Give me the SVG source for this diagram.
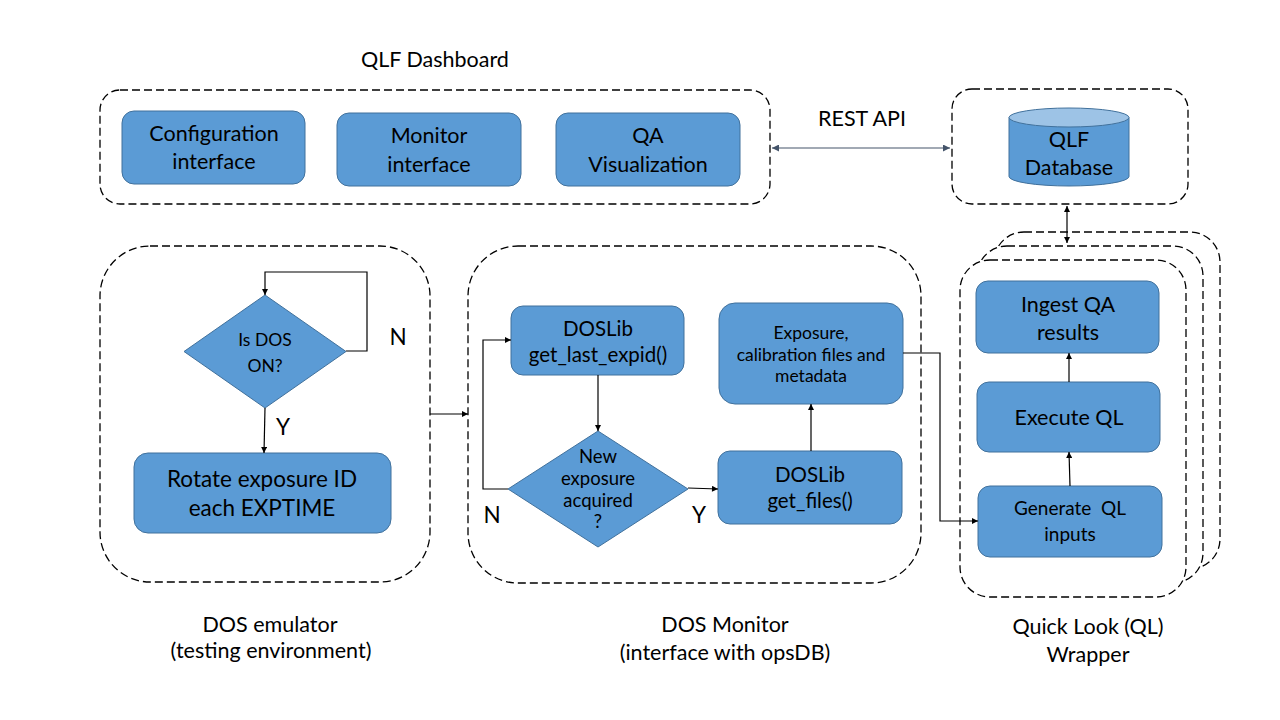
<svg xmlns="http://www.w3.org/2000/svg" width="1280" height="720" viewBox="0 0 1280 720">
<style>
.bg{fill:#ffffff}
.cont{fill:none;stroke:#000;stroke-width:1.3;stroke-dasharray:8,4}
.contw{fill:#ffffff;stroke:#000;stroke-width:1.3;stroke-dasharray:8,4}
.box{fill:#5B9BD5;stroke:#41719C;stroke-width:1}
.top{fill:#9DC3E6;stroke:#41719C;stroke-width:1}
text{font-family:Lato,"Liberation Sans",sans-serif;fill:#000;text-anchor:middle}
.t20{font-size:21.5px}
.t21{font-size:22.5px}
.t19{font-size:20.5px}
.t17{font-size:19px}
.td{font-size:17.5px}
.t16{font-size:17.5px}
.tn{font-size:18.5px}
.con{fill:none;stroke:#000;stroke-width:1.2}
.api{fill:none;stroke:#44546A;stroke-width:1.2}
</style>
<defs>
<marker id="ah" viewBox="0 0 10 10" refX="10" refY="5" markerWidth="7" markerHeight="6" markerUnits="userSpaceOnUse" orient="auto-start-reverse">
<path d="M0,0 L10,5 L0,10 z" fill="#000"/>
</marker>
<marker id="ahb" viewBox="0 0 10 10" refX="10" refY="5" markerWidth="8" markerHeight="7" markerUnits="userSpaceOnUse" orient="auto-start-reverse">
<path d="M0,0 L10,5 L0,10 z" fill="#44546A"/>
</marker>
</defs>
<rect class="bg" x="0" y="0" width="1280" height="720"/>

<g id="dashboard">
<text class="t20" x="435" y="67">QLF Dashboard</text>
<rect class="cont" x="100" y="90" width="670" height="114" rx="20"/>
</g>
<g id="config-interface">
<rect class="box" x="122" y="111" width="183" height="73" rx="12"/>
<text class="t20" x="214" y="141">Configuration</text>
<text class="t20" x="214" y="169">interface</text>
</g>
<g id="monitor-interface">
<rect class="box" x="337" y="113" width="184" height="73" rx="12"/>
<text class="t20" x="429" y="143">Monitor</text>
<text class="t20" x="429" y="172">interface</text>
</g>
<g id="qa-visualization">
<rect class="box" x="556" y="113" width="184" height="73" rx="12"/>
<text class="t20" x="648" y="143">QA</text>
<text class="t20" x="648" y="172">Visualization</text>
</g>

<g id="database">
<rect class="cont" x="952" y="89" width="236" height="115" rx="20"/>
<path class="box" d="M1009,117.5 V176.5 A60,9.5 0 0 0 1129,176.5 V117.5"/>
<ellipse class="top" cx="1069" cy="117.5" rx="60" ry="9.5"/>
<text class="t20" x="1069" y="147">QLF</text>
<text class="t20" x="1069" y="175">Database</text>
</g>

<g id="rest-api-label">
<text class="t20" x="862" y="126">REST API</text>
</g>

<g id="dos-emulator">
<rect class="cont" x="100" y="246" width="330" height="336" rx="50"/>
<text class="t20" x="270" y="632">DOS emulator</text>
<text class="t20" x="271" y="658">(testing environment)</text>
</g>
<g id="is-dos-on">
<polygon class="box" points="265,295 346,351.5 265,408 184,351.5"/>
<text class="td" x="265" y="346">Is DOS</text>
<text class="td" x="265" y="372">ON?</text>
</g>
<g id="rotate-exposure">
<rect class="box" x="134" y="453" width="257" height="80" rx="14"/>
<text class="t21" x="262" y="487">Rotate exposure ID</text>
<text class="t21" x="262" y="516">each EXPTIME</text>
</g>

<g id="dos-monitor">
<rect class="cont" x="468" y="246" width="453" height="337" rx="50"/>
<text class="t20" x="725" y="632">DOS Monitor</text>
<text class="t20" x="725" y="660">(interface with opsDB)</text>
</g>
<g id="get-last-expid">
<rect class="box" x="511" y="306" width="173" height="69" rx="12"/>
<text class="t19" x="598" y="336">DOSLib</text>
<text class="t19" x="598" y="362">get_last_expid()</text>
</g>
<g id="new-exposure">
<polygon class="box" points="598,431 688,489 598,547 508,489"/>
<text class="tn" x="598" y="463">New</text>
<text class="tn" x="598" y="485">exposure</text>
<text class="tn" x="598" y="507">acquired</text>
<text class="tn" x="598" y="528">?</text>
</g>
<g id="get-files">
<rect class="box" x="718" y="451" width="184" height="73" rx="12"/>
<text class="t19" x="810" y="482">DOSLib</text>
<text class="t19" x="810" y="508">get_files()</text>
</g>
<g id="exposure-files">
<rect class="box" x="719" y="303" width="184" height="101" rx="16"/>
<text class="t16" x="811" y="339">Exposure,</text>
<text class="t16" x="811" y="361">calibration files and</text>
<text class="t16" x="811" y="382">metadata</text>
</g>

<g id="ql-wrapper">
<rect class="contw" x="994" y="232" width="226" height="337" rx="30"/>
<rect class="contw" x="977" y="246" width="226" height="337" rx="30"/>
<rect class="contw" x="960" y="260" width="226" height="337" rx="30"/>
<text class="t20" x="1088" y="634">Quick Look (QL)</text>
<text class="t20" x="1088" y="662">Wrapper</text>
</g>
<g id="ingest-qa">
<rect class="box" x="976" y="281" width="183" height="72" rx="12"/>
<text class="t20" x="1068" y="312">Ingest QA</text>
<text class="t20" x="1068" y="340">results</text>
</g>
<g id="execute-ql">
<rect class="box" x="977" y="382" width="183" height="70" rx="12"/>
<text class="t20" x="1069" y="425">Execute QL</text>
</g>
<g id="generate-ql">
<rect class="box" x="978" y="486" width="184" height="71" rx="12"/>
<text class="t17" x="1070" y="515" xml:space="preserve">Generate  QL</text>
<text class="t17" x="1070" y="541">inputs</text>
</g>

<g id="connectors">
<line class="api" x1="772" y1="148" x2="950" y2="148" marker-start="url(#ahb)" marker-end="url(#ahb)"/>
<line class="con" x1="1067" y1="206" x2="1067" y2="243" marker-start="url(#ah)" marker-end="url(#ah)"/>
<polyline class="con" points="346,351 367,351 367,272 265,272 265,295" marker-end="url(#ah)"/>
<line class="con" x1="265" y1="408" x2="264" y2="453" marker-end="url(#ah)"/>
<line class="con" x1="430" y1="414" x2="468" y2="414" marker-end="url(#ah)"/>
<line class="con" x1="598" y1="375" x2="598" y2="431" marker-end="url(#ah)"/>
<polyline class="con" points="508,489 483,489 483,340 511,340" marker-end="url(#ah)"/>
<line class="con" x1="688" y1="488" x2="718" y2="489" marker-end="url(#ah)"/>
<line class="con" x1="811" y1="451" x2="811" y2="404" marker-end="url(#ah)"/>
<polyline class="con" points="903,353 940,353 940,521 978,521" marker-end="url(#ah)"/>
<line class="con" x1="1070" y1="486" x2="1069" y2="452" marker-end="url(#ah)"/>
<line class="con" x1="1069" y1="382" x2="1069" y2="353" marker-end="url(#ah)"/>
<text class="t21" x="398" y="345">N</text>
<text class="t21" x="283" y="435">Y</text>
<text class="t21" x="492" y="523">N</text>
<text class="t21" x="699" y="523">Y</text>
</g>
</svg>
